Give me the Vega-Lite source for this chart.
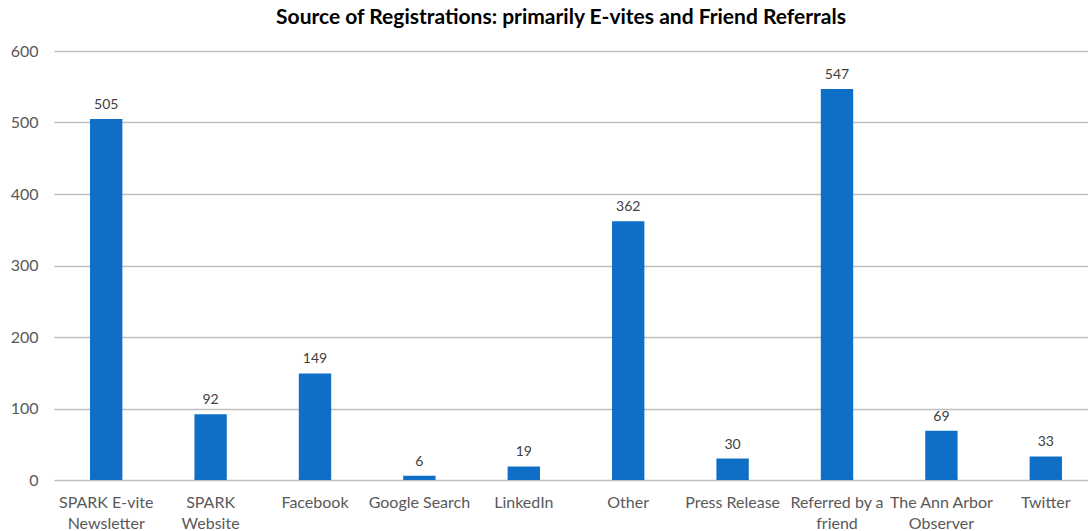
{
  "$schema": "https://vega.github.io/schema/vega-lite/v6.json",
  "autosize": "none",
  "width": 1044,
  "height": 429,
  "padding": {"left": 54, "top": 51, "right": 0, "bottom": 51},
  "background": "white",
  "title": {
    "text": "Source of Registrations: primarily E-vites and Friend Referrals",
    "font": "Lato",
    "fontSize": 21,
    "fontWeight": "bold",
    "color": "#000000",
    "anchor": "middle",
    "dx": -15,
    "offset": 15
  },
  "config": {
    "view": {"stroke": null},
    "font": "Lato"
  },
  "data": {
    "values": [
      {"source": "SPARK E-vite Newsletter", "count": 505},
      {"source": "SPARK Website", "count": 92},
      {"source": "Facebook", "count": 149},
      {"source": "Google Search", "count": 6},
      {"source": "LinkedIn", "count": 19},
      {"source": "Other", "count": 362},
      {"source": "Press Release", "count": 30},
      {"source": "Referred by a friend", "count": 547},
      {"source": "The Ann Arbor Observer", "count": 69},
      {"source": "Twitter", "count": 33}
    ]
  },
  "encoding": {
    "x": {
      "field": "source",
      "type": "nominal",
      "sort": null,
      "scale": {"paddingInner": 0.69, "paddingOuter": 0.345},
      "axis": {
        "title": null,
        "labelAngle": 0,
        "labelFont": "Lato",
        "labelFontSize": 16,
        "labelColor": "#595959",
        "labelPadding": 14,
        "labelLineHeight": 21,
        "ticks": false,
        "domain": false,
        "labelExpr": "datum.value == 'SPARK E-vite Newsletter' ? ['SPARK E-vite', 'Newsletter'] : datum.value == 'SPARK Website' ? ['SPARK', 'Website'] : datum.value == 'Referred by a friend' ? ['Referred by a', 'friend'] : datum.value == 'The Ann Arbor Observer' ? ['The Ann Arbor', 'Observer'] : datum.value"
      }
    },
    "y": {
      "field": "count",
      "type": "quantitative",
      "scale": {"domain": [0, 600]},
      "axis": {
        "title": null,
        "values": [0, 100, 200, 300, 400, 500, 600],
        "labelFont": "Lato",
        "labelFontSize": 16,
        "labelColor": "#595959",
        "labelPadding": 16,
        "ticks": false,
        "domain": false,
        "gridColor": "#BFBFBF",
        "gridWidth": 1.3
      }
    }
  },
  "layer": [
    {
      "mark": {"type": "bar", "color": "#0F6FC6"}
    },
    {
      "mark": {"type": "text", "dy": -14, "fontSize": 14, "font": "Lato", "color": "#404040"},
      "encoding": {"text": {"field": "count", "type": "quantitative"}}
    }
  ]
}
